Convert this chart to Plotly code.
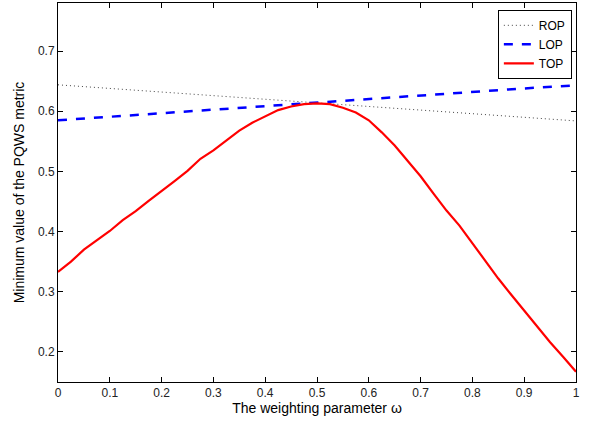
import plotly.graph_objects as go

omega = [0.0, 0.025, 0.05, 0.075, 0.1, 0.125, 0.15, 0.175, 0.2, 0.225, 0.25, 0.275,
         0.3, 0.325, 0.35, 0.375, 0.4, 0.425, 0.45, 0.475, 0.5, 0.525, 0.55, 0.575,
         0.6, 0.625, 0.65, 0.675, 0.7, 0.725, 0.75, 0.775, 0.8, 0.825, 0.85, 0.875,
         0.9, 0.925, 0.95, 0.975, 1.0]
top_vals = [0.333, 0.350, 0.370, 0.386, 0.401, 0.419, 0.434, 0.451, 0.467, 0.484,
            0.501, 0.521, 0.535, 0.551, 0.568, 0.581, 0.592, 0.602, 0.608, 0.612,
            0.613, 0.612, 0.606, 0.598, 0.585, 0.565, 0.543, 0.518, 0.492, 0.463,
            0.435, 0.410, 0.381, 0.350, 0.322, 0.295, 0.268, 0.242, 0.216, 0.192,
            0.167]

omega_lin = [0.0, 0.1, 0.2, 0.3, 0.4, 0.5, 0.6, 0.7, 0.8, 0.9, 1.0]
rop_vals = [0.644, 0.638, 0.632, 0.626, 0.620, 0.614, 0.608, 0.602, 0.596, 0.590, 0.584]
lop_vals = [0.585, 0.591, 0.597, 0.603, 0.609, 0.614, 0.620, 0.626, 0.632, 0.638, 0.643]

x_ticks = [0, 0.1, 0.2, 0.3, 0.4, 0.5, 0.6, 0.7, 0.8, 0.9, 1]
x_tick_text = ["0", "0.1", "0.2", "0.3", "0.4", "0.5", "0.6", "0.7", "0.8", "0.9", "1"]
y_ticks = [0.2, 0.3, 0.4, 0.5, 0.6, 0.7]
y_tick_text = ["0.2", "0.3", "0.4", "0.5", "0.6", "0.7"]

FONT = "Liberation Sans, Arial, Helvetica, sans-serif"

fig = go.Figure()
fig.add_trace(go.Scatter(x=omega_lin, y=rop_vals, mode="lines", name="ROP",
                         line=dict(color="#444444", width=1, dash="1px,3px")))
fig.add_trace(go.Scatter(x=omega_lin, y=lop_vals, mode="lines", name="LOP",
                         line=dict(color="#0000ff", width=2.5, dash="dash")))
fig.add_trace(go.Scatter(x=omega, y=top_vals, mode="lines", name="TOP",
                         line=dict(color="#ff0000", width=2.2)))

axis_common = dict(showline=True, linecolor="black", linewidth=1, mirror="ticks",
                   ticks="inside", ticklen=5, tickcolor="black", showgrid=False,
                   zeroline=False, automargin=False,
                   tickfont=dict(family=FONT, size=12, color="#222"))

fig.update_xaxes(range=[0, 1], tickvals=x_ticks, ticktext=x_tick_text,
                 title=dict(text="The weighting parameter ω", standoff=2,
                            font=dict(family=FONT, size=14, color="black")),
                 **axis_common)
fig.update_yaxes(range=[0.15, 0.78], tickvals=y_ticks, ticktext=y_tick_text,
                 title=dict(text="Minimum value of the PQWS metric", standoff=10,
                            font=dict(family=FONT, size=14, color="black")),
                 **axis_common)

fig.update_layout(
    width=592, height=424,
    margin=dict(l=58, r=16, t=3, b=42),
    plot_bgcolor="white", paper_bgcolor="white",
    legend=dict(x=0.992, y=0.982, xanchor="right", yanchor="top",
                bgcolor="white", bordercolor="black", borderwidth=1,
                font=dict(family=FONT, size=12, color="black"),
                tracegroupgap=0, itemwidth=30),
)

fig.write_html("out.html", config={"displayModeBar": False},
               post_script="document.body.style.margin='0';")
